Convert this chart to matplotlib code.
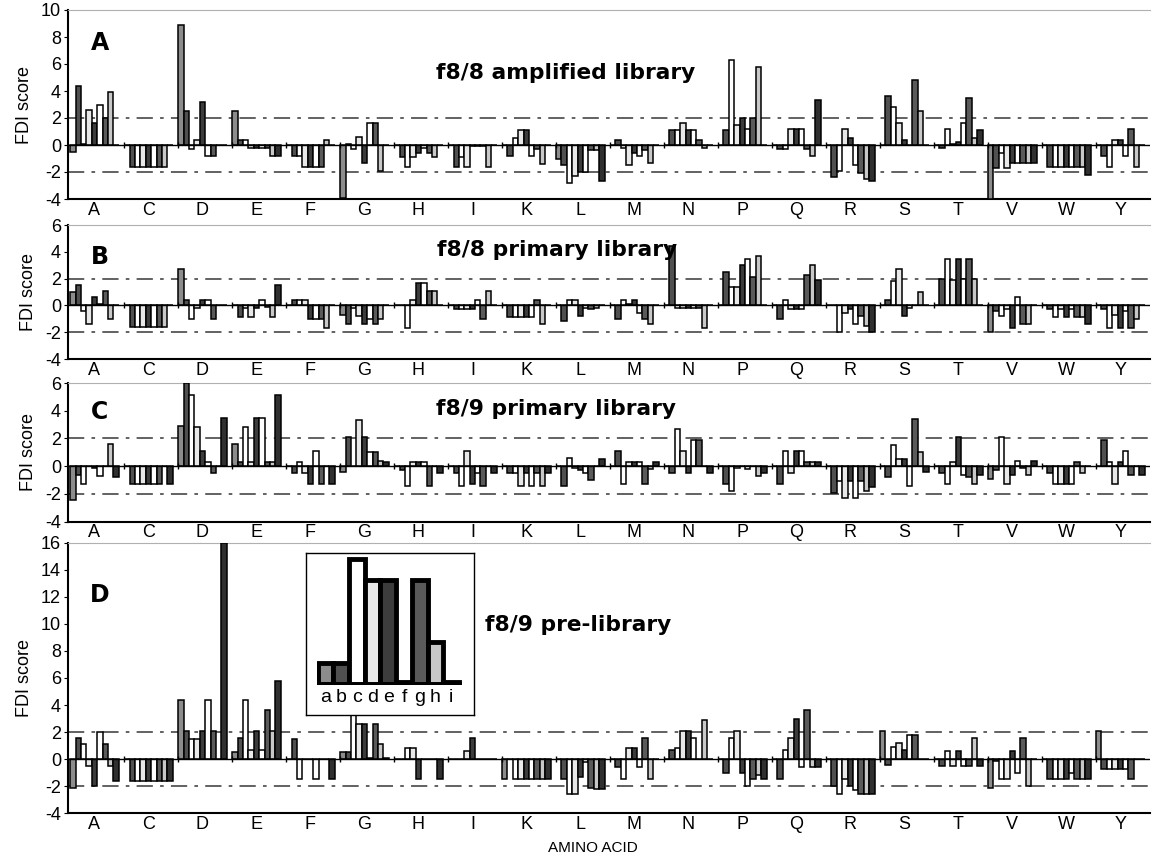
import matplotlib.pyplot as plt
import numpy as np

plt.rcParams['font.family'] = ['Liberation Sans', 'DejaVu Sans']
plt.rcParams['axes.unicode_minus'] = False

amino_acids = ['A', 'C', 'D', 'E', 'F', 'G', 'H', 'I', 'K', 'L',
               'M', 'N', 'P', 'Q', 'R', 'S', 'T', 'V', 'W', 'Y']
positions = ['a', 'b', 'c', 'd', 'e', 'f', 'g', 'h', 'i']
pos_colors = ['#8c8c8c', '#505050', '#ffffff', '#e8e8e8', '#3c3c3c',
              '#ffffff', '#5a5a5a', '#c8c8c8', '#303030']

# one row per amino acid, 9 positions (a..i) each
panel_a = [
    [-0.5, 4.4, 0.1, 2.6, 1.6, 3.0, 2.0, 3.9, 0],
    [0, -1.6, -1.6, -1.6, -1.6, -1.6, -1.6, -1.6, 0],
    [8.9, 2.5, -0.3, 0.4, 3.2, -0.8, -0.8, 0, 0],
    [2.5, 0.4, 0.4, -0.2, -0.2, -0.2, -0.2, -0.8, -0.8],
    [0, -0.8, -0.8, -1.6, -1.6, -1.6, -1.6, 0.4, 0],
    [-3.9, 0.1, -0.3, 0.6, -1.3, 1.6, 1.6, -1.9, 0],
    [0, -0.9, -1.6, -0.9, -0.6, -0.2, -0.6, -0.9, 0],
    [0, -1.6, -0.9, -1.6, -0.1, -0.1, -0.1, -1.6, 0],
    [0, -0.8, 0.5, 1.1, 1.1, -0.8, -0.3, -1.4, 0],
    [-1.0, -1.5, -2.8, -2.3, -2.0, -2.0, -0.4, -0.4, -2.7],
    [0, 0.4, -0.2, -1.5, -0.6, -0.8, -0.4, -1.3, 0],
    [0, 1.1, 1.1, 1.6, 1.1, 1.1, 0.4, -0.2, 0],
    [0, 1.1, 6.3, 1.5, 2.0, 1.2, 2.0, 5.8, 0],
    [0, -0.3, -0.3, 1.2, 1.2, 1.2, -0.3, -0.8, 3.3],
    [0, -2.4, -1.9, 1.2, 0.5, -1.5, -2.1, -2.5, -2.7],
    [0, 3.6, 2.8, 1.6, 0.4, 0, 4.8, 2.5, 0],
    [0, -0.2, 1.2, 0.1, 0.2, 1.6, 3.5, 0.5, 1.1],
    [-4.0, -1.7, -0.6, -1.7, -1.3, -1.3, -1.3, -1.3, -1.3],
    [0, -1.6, -1.6, -1.6, -1.6, -1.6, -1.6, -1.6, -2.2],
    [0, -0.8, -1.6, 0.4, 0.4, -0.8, 1.2, -1.6, 0],
]

panel_b = [
    [1.0, 1.5, -0.4, -1.4, 0.6, 0.1, 1.1, -1.0, 0],
    [0, -1.6, -1.6, -1.6, -1.6, -1.6, -1.6, -1.6, 0],
    [2.7, 0.4, -1.0, -0.2, 0.4, 0.4, -1.0, 0, 0],
    [0, -0.9, -0.2, -0.9, -0.2, 0.4, -0.1, -0.9, 1.5],
    [0, 0.4, 0.4, 0.4, -1.0, -1.0, -1.0, -1.7, 0],
    [-0.7, -1.4, -0.2, -0.8, -1.4, -1.0, -1.4, -1.0, 0],
    [0, 0, -1.7, 0.4, 1.7, 1.7, 1.1, 1.1, 0],
    [0, -0.3, -0.3, -0.3, -0.3, 0.4, -1.0, 1.1, 0],
    [0, -0.9, -0.9, -0.9, -0.9, -0.9, 0.4, -1.4, 0],
    [0, -1.2, 0.4, 0.4, -0.8, -0.2, -0.3, -0.2, 0],
    [0, -1.0, 0.4, 0.1, 0.4, -0.6, -1.0, -1.4, 0],
    [0, 4.4, -0.2, -0.2, -0.2, -0.2, -0.2, -1.7, 0],
    [0, 2.5, 1.4, 1.4, 3.0, 3.5, 2.1, 3.7, 0],
    [0, -1.0, 0.4, -0.3, -0.3, -0.3, 2.3, 3.0, 1.9],
    [0, 0, -2.0, -0.6, -0.3, -1.4, -0.8, -1.5, -2.0],
    [0, 0.4, 1.8, 2.7, -0.8, -0.2, 0, 1.0, 0],
    [0, 2.0, 3.5, 1.9, 3.5, 2.0, 3.5, 2.0, 0],
    [-2.0, -0.4, -0.8, -0.3, -1.7, 0.6, -1.4, -1.4, 0],
    [0, -0.3, -0.9, -0.3, -0.9, -0.3, -0.9, -0.9, -1.4],
    [0, -0.3, -1.7, -0.7, -1.7, -0.4, -1.7, -1.0, 0],
]

panel_c = [
    [-2.4, -0.6, -1.3, 0, -0.1, -0.7, 0, 1.6, -0.8],
    [0, -1.3, -1.3, -1.3, -1.3, -1.3, -1.3, 0, -1.3],
    [2.9, 6.0, 5.1, 2.8, 1.1, 0.3, -0.5, 0, 3.5],
    [1.6, 0.3, 2.8, 0.3, 3.5, 3.5, 0.3, 0.3, 5.1],
    [0, -0.5, 0.3, -0.5, -1.3, 1.1, -1.3, 0, -1.3],
    [-0.4, 2.1, 0, 3.3, 2.1, 1.0, 1.0, 0.4, 0.3],
    [0, -0.3, -1.4, 0.3, 0.3, 0.3, -1.4, 0, -0.5],
    [0, -0.5, -1.4, 1.1, -1.3, -0.5, -1.4, 0, -0.5],
    [0, -0.5, -0.5, -1.4, -0.5, -1.4, -0.5, -1.4, -0.5],
    [0, -1.4, 0.6, -0.1, -0.3, -0.5, -1.0, 0, 0.5],
    [0, 1.1, -1.3, 0.3, 0.3, 0.3, -1.3, -0.2, 0.3],
    [0, -0.5, 2.7, 1.1, -0.5, 1.9, 1.9, 0, -0.5],
    [0, -1.3, -1.8, -0.1, 0, -0.2, 0, -0.7, -0.5],
    [0, -1.3, 1.1, -0.5, 1.1, 1.1, 0.3, 0.3, 0.3],
    [0, -1.9, -1.1, -2.3, -1.1, -2.3, -1.1, -1.8, -1.5],
    [0, -0.8, 1.5, 0.5, 0.5, -1.4, 3.4, 1.0, -0.4],
    [0, -0.5, -1.3, 0.3, 2.1, -0.6, -0.8, -1.3, -0.6],
    [-0.9, -0.3, 2.1, -1.3, -0.6, 0.4, -0.1, -0.6, 0.4],
    [0, -0.5, -1.3, -1.3, -1.3, -1.3, 0.3, -0.5, 0],
    [0, 1.9, 0.3, -1.3, 0.3, 1.1, -0.6, 0, -0.6],
]

panel_d = [
    [-2.1, 1.6, 1.1, -0.5, -2.0, 2.0, 1.1, -0.5, -1.6],
    [0, -1.6, -1.6, -1.6, -1.6, -1.6, -1.6, -1.6, -1.6],
    [4.4, 2.1, 1.5, 1.5, 2.1, 4.4, 2.1, 0, 16],
    [0.5, 1.6, 4.4, 0.7, 2.1, 0.7, 3.6, 2.1, 5.8],
    [0, 1.5, -1.5, 0, 0, -1.5, 0, 0, -1.5],
    [0.5, 0.5, 3.3, 2.6, 2.6, 0.1, 2.6, 1.1, 0.1],
    [0, 0, 0.8, 0.8, -1.5, 0, 0, 0, -1.5],
    [0, 0, 0, 0.6, 1.6, 0, 0, 0, 0],
    [-1.5, 0, -1.5, -1.5, -1.5, -1.5, -1.5, -1.5, -1.5],
    [0, -1.5, -2.6, -2.6, -1.3, -0.2, -2.1, -2.2, -2.2],
    [0, -0.6, -1.5, 0.8, 0.8, -0.6, 1.6, -1.5, 0],
    [0, 0.7, 0.8, 2.1, 2.1, 1.6, 0, 2.9, 0],
    [0, -1.0, 1.6, 2.1, -1.0, -2.0, -1.5, -1.2, -1.5],
    [0, -1.5, 0.7, 1.6, 3.0, -0.6, 3.6, -0.6, -0.6],
    [0, -2.0, -2.6, -1.5, -2.0, -2.3, -2.6, -2.6, -2.6],
    [2.1, -0.4, 0.9, 1.2, 0.7, 1.8, 1.8, 0, 0],
    [0, -0.5, 0.6, -0.5, 0.6, -0.5, -0.5, 1.6, -0.5],
    [-2.1, -0.1, -1.5, -1.5, 0.6, -1.0, 1.6, -2.0, 0],
    [0, -1.5, -1.5, -1.5, -1.5, -1.0, -1.5, -1.5, -1.5],
    [2.1, -0.7, -0.7, -0.7, -0.7, -0.7, -1.5, 0, 0],
]

inset_values = [2.2, 2.2, 12.7, 10.6, 10.6, 0.3, 10.6, 4.3, 0.3]

panel_titles = ['f8/8 amplified library', 'f8/8 primary library',
                'f8/9 primary library', 'f8/9 pre-library']
panel_letters = ['A', 'B', 'C', 'D']
panel_ylims = [(-4, 10), (-4, 6), (-4, 6), (-4, 16)]

W, H = 1152, 861
fig = plt.figure(figsize=(W / 100, H / 100), dpi=100)

# pixel boxes (left, top, right, bottom)
boxes = [(68, 10, 1150, 199), (68, 225, 1150, 359),
         (68, 383, 1150, 521.7), (68, 542.7, 1150, 813.3)]
title_xy = [(436, 73), (437, 250), (436, 409), (485, 625)]
letter_xy = [(100, 43), (100, 257), (100, 412), (100, 595)]

def fr(px, py):
    return px / W, 1 - py / H

n_pos = len(positions)
slot = 10
x_all = np.array([g * slot + j for g in range(len(amino_acids)) for j in range(n_pos)])
col_all = [pos_colors[j] for g in range(len(amino_acids)) for j in range(n_pos)]
centers = np.arange(len(amino_acids)) * slot + (n_pos - 1) / 2
bounds = np.arange(len(amino_acids)) * slot - 0.5

for i, data in enumerate([panel_a, panel_b, panel_c, panel_d]):
    l, t, r, b = boxes[i]
    ax = fig.add_axes([l / W, 1 - b / H, (r - l) / W, (b - t) / H])
    vals = np.array(data).ravel()
    ax.bar(x_all, vals, width=1.0, color=col_all, edgecolor='black', linewidth=1.1, zorder=3)
    ax.axhline(0, color='black', lw=1.0, zorder=4)
    ax.plot(bounds[1:], np.zeros(len(bounds) - 1), '|', color='black', ms=4, mew=1, zorder=4)
    for yv in (2, -2):
        ax.axhline(yv, color='#555555', lw=1.3, ls=(0, (9, 4, 2, 4)), zorder=2)
    ax.set_xlim(-0.9, 199.5)
    lo, hi = panel_ylims[i]
    ax.set_ylim(lo, hi)
    ax.set_yticks(np.arange(lo, hi + 1, 2))
    ax.set_xticks(centers)
    ax.set_xticklabels(amino_acids, fontsize=13)
    ax.tick_params(axis='x', length=0, pad=2)
    ax.tick_params(axis='y', labelsize=13, length=3, pad=2)
    ax.spines['right'].set_visible(False)
    ax.spines['top'].set_color('#b0b0b0')
    ax.spines['left'].set_linewidth(1.5)
    ax.spines['bottom'].set_linewidth(1.5)
    ax.set_ylabel('FDI score', fontsize=13, labelpad=6)
    tx, ty = fr(*title_xy[i])
    fig.text(tx, ty, panel_titles[i], fontsize=15.7, fontweight='bold',
             family='DejaVu Sans', ha='left', va='center')
    lx, ly = fr(*letter_xy[i])
    fig.text(lx, ly, panel_letters[i], fontsize=17, fontweight='heavy',
             family='DejaVu Sans', ha='center', va='center')

# inset with position colours
box = fig.add_axes([306 / W, 1 - 715 / H, 168 / W, 162 / H])
box.set_xticks([])
box.set_yticks([])
for s in box.spines.values():
    s.set_linewidth(1.0)
box.set_zorder(5)
inner = fig.add_axes([317 / W, 1 - 685 / H, 145 / W, 129 / H])
inner.set_zorder(6)
inner.patch.set_visible(False)
inner.bar(np.arange(n_pos), inset_values, width=1.0, color=pos_colors,
          edgecolor='black', linewidth=3.5)
inner.axhline(0, color='black', lw=5)
inner.set_xlim(-0.55, n_pos - 0.3)
inner.set_ylim(0, 13)
inner.set_xticks(np.arange(n_pos))
inner.set_xticklabels(positions, fontsize=14)
inner.tick_params(axis='x', length=0, pad=3)
inner.set_yticks([])
for s in inner.spines.values():
    s.set_visible(False)

fig.text(593 / W, 1 - 848 / H, 'AMINO ACID', fontsize=11, ha='center', va='center')

fig.savefig('out.png', dpi=100)
